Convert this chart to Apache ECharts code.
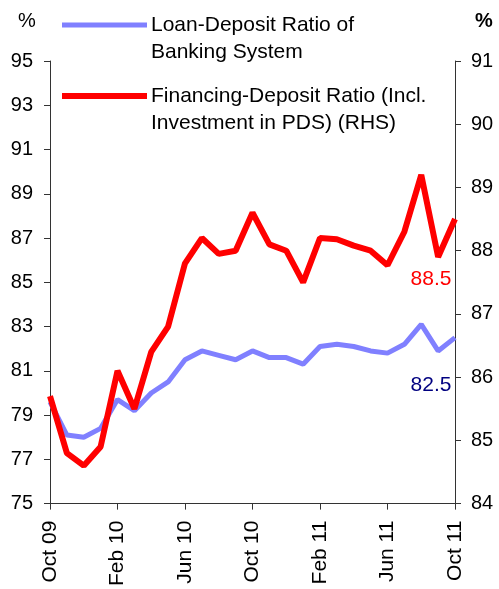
<!DOCTYPE html>
<html>
<head>
<meta charset="utf-8">
<script src="https://cdn.jsdelivr.net/npm/echarts@6/dist/echarts.min.js"></script>
<style>
  html, body { margin: 0; padding: 0; background: #fff; }
  #main { width: 499px; height: 589px; }
</style>
</head>
<body>
<div id="main"></div>
<script>
// months Oct 09 .. Oct 11
var months = ['Oct 09', 'Nov 09', 'Dec 09', 'Jan 10', 'Feb 10', 'Mar 10', 'Apr 10', 'May 10', 'Jun 10',
  'Jul 10', 'Aug 10', 'Sep 10', 'Oct 10', 'Nov 10', 'Dec 10', 'Jan 11', 'Feb 11', 'Mar 11', 'Apr 11',
  'May 11', 'Jun 11', 'Jul 11', 'Aug 11', 'Sep 11', 'Oct 11'];

// Loan-Deposit Ratio (LHS)
var loanDeposit = [79.6, 78.1, 78.0, 78.4, 79.7, 79.2, 80.0, 80.5, 81.5, 81.9, 81.7, 81.5, 81.9,
  81.6, 81.6, 81.3, 82.1, 82.2, 82.1, 81.9, 81.8, 82.2, 83.1, 81.9, 82.5];

// Financing-Deposit Ratio (RHS)
var financingDeposit = [85.7, 84.8, 84.6, 84.9, 86.1, 85.5, 86.4, 86.8, 87.8, 88.2, 87.95, 88.0, 88.6,
  88.1, 88.0, 87.5, 88.2, 88.18, 88.08, 88.0, 87.77, 88.3, 89.2, 87.9, 88.5];

var leftTicks = [75, 77, 79, 81, 83, 85, 87, 89, 91, 93, 95];

var seriesNames = ['Loan-Deposit Ratio of\nBanking System', 'Financing-Deposit Ratio (Incl.\nInvestment in PDS) (RHS)'];
var seriesColors = ['#8080ff', '#ff0000'];

var chart = echarts.init(document.getElementById('main'), null, { renderer: 'canvas' });
var font = 'Liberation Sans, Arial, sans-serif';
var axisCol = '#333';
var last = months.length - 1;

// legend drawn by hand: icon lines up with the first text line
function legendItem(y, idx, w) {
  return {
    type: 'group',
    children: [
      { type: 'line', shape: { x1: 62, y1: y, x2: 147, y2: y }, style: { stroke: seriesColors[idx], lineWidth: w } },
      { type: 'text', x: 151, y: y - 13.5,
        style: { text: seriesNames[idx], font: '21px ' + font, fill: '#000', lineHeight: 27, verticalAlign: 'top' } }
    ]
  };
}

var option = {
  animation: false,
  backgroundColor: '#fff',
  grid: { left: 50, right: 44, top: 61, bottom: 84 },
  xAxis: {
    type: 'category',
    data: months,
    boundaryGap: false,
    axisLine: { lineStyle: { color: axisCol } },
    axisTick: { interval: 3, length: 6, lineStyle: { color: axisCol } },
    axisLabel: { interval: 3, rotate: 90, margin: 17, fontFamily: font, fontSize: 21, color: '#000' }
  },
  yAxis: [{
    type: 'value', min: 75, max: 95,
    splitLine: { show: false },
    axisLine: { show: true, lineStyle: { color: axisCol } },
    axisTick: { show: true, length: 6, customValues: leftTicks, lineStyle: { color: axisCol } },
    axisLabel: { customValues: leftTicks, margin: 17, fontFamily: font, fontSize: 20, color: '#000' }
  }, {
    type: 'value', min: 84, max: 91, interval: 1,
    splitLine: { show: false },
    axisLine: { show: true, lineStyle: { color: axisCol } },
    axisTick: { show: true, length: 6, lineStyle: { color: axisCol } },
    axisLabel: { margin: 16, fontFamily: font, fontSize: 20, color: '#000' }
  }],
  graphic: [
    { type: 'text', left: 18, top: 11, style: { text: '%', font: '20px ' + font, fill: '#000' } },
    { type: 'text', left: 475, top: 11, style: { text: '%', font: 'bold 20px ' + font, fill: '#000' } },
    legendItem(25, 0, 5),
    legendItem(96, 1, 6)
  ],
  series: [{
    name: seriesNames[0],
    type: 'line',
    yAxisIndex: 0,
    data: loanDeposit,
    showSymbol: false,
    color: seriesColors[0],
    lineStyle: { width: 5, color: seriesColors[0] },
    z: 2,
    markPoint: {
      symbol: 'circle', symbolSize: 0,
      data: [{ coord: [last, loanDeposit[last]] }],
      label: { formatter: String(loanDeposit[last]), offset: [-24, 48], fontFamily: font, fontSize: 21, color: '#000080' }
    }
  }, {
    name: seriesNames[1],
    type: 'line',
    yAxisIndex: 1,
    data: financingDeposit,
    showSymbol: false,
    color: seriesColors[1],
    lineStyle: { width: 6, color: seriesColors[1] },
    z: 3,
    markPoint: {
      symbol: 'circle', symbolSize: 0,
      data: [{ coord: [last, financingDeposit[last]] }],
      label: { formatter: String(financingDeposit[last]), offset: [-24, 60], fontFamily: font, fontSize: 21, color: '#ff0000' }
    }
  }]
};

chart.setOption(option);
</script>
</body>
</html>
